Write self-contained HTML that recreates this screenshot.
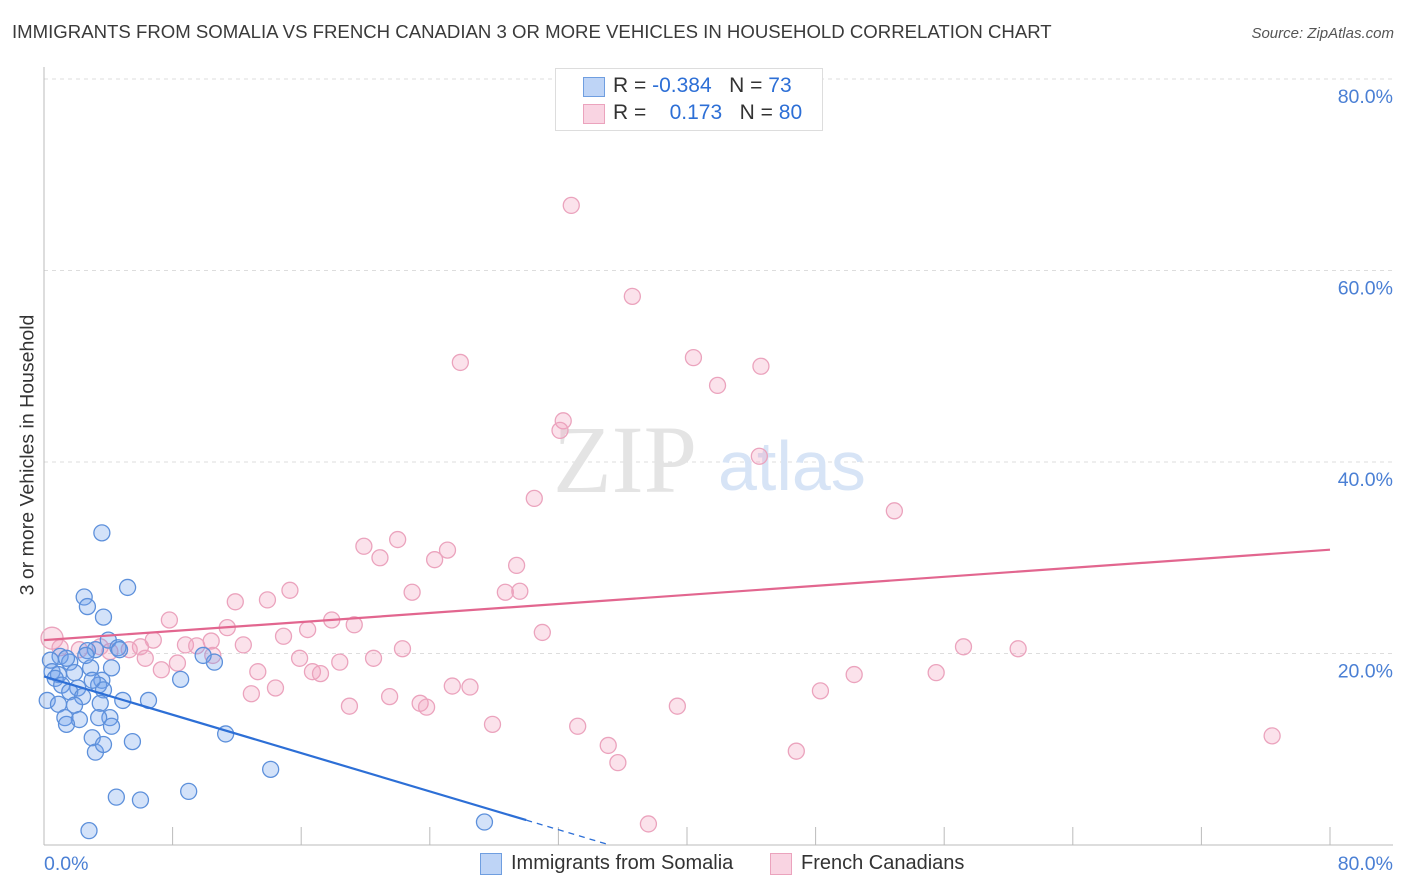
<!DOCTYPE html>
<html><head><meta charset="utf-8">
<style>
body{margin:0;background:#fff;font-family:"Liberation Sans",sans-serif;}
#wrap{position:relative;width:1406px;height:892px;overflow:hidden;}
.t{position:absolute;white-space:nowrap;}
</style></head>
<body>
<div id="wrap">
<div class="t" style="left:12px;top:21px;font-size:18.6px;color:#3a3a3a;">IMMIGRANTS FROM SOMALIA VS FRENCH CANADIAN 3 OR MORE VEHICLES IN HOUSEHOLD CORRELATION CHART</div>
<div class="t" style="right:12px;top:25px;font-size:15px;color:#555;font-style:italic;">Source: ZipAtlas.com</div>
<div class="t" style="left:28px;top:455px;font-size:19.5px;color:#333;transform:translate(-50%,-50%) rotate(-90deg);">3 or more Vehicles in Household</div>
<svg id="plot" width="1406" height="892" style="position:absolute;left:0;top:0"></svg>
</div>
<script>
const xTickLabels=["0.0%","80.0%"];
const yTickVals=[20,40,60,80];
const yTickLabels=["20.0%","40.0%","60.0%","80.0%"];
const somaliaX=[3.6,5.2,2.5,2.7,3.7,4.0,4.6,3.2,2.7,1.0,0.4,1.6,1.4,2.9,4.2,0.5,0.9,1.9,0.7,1.1,3.6,3.4,2.1,3.7,1.6,0.2,0.9,2.4,4.9,6.5,3.5,1.9,1.3,2.2,4.1,3.4,4.2,1.4,3.0,3.2,3.7,5.5,11.3,14.1,4.5,6.0,9.0,2.8,27.4,8.5,10.6,9.9,4.7,3.0,2.6];
const somaliaY=[32.6,26.9,25.9,24.9,23.8,21.4,20.6,20.4,20.3,19.7,19.3,19.1,19.5,18.5,18.5,18.1,17.8,18.0,17.4,16.7,17.2,16.7,16.4,16.2,16.0,15.1,14.7,15.5,15.1,15.1,14.8,14.6,13.3,13.1,13.3,13.3,12.4,12.6,11.2,9.7,10.5,10.8,11.6,7.9,5.0,4.7,5.6,1.5,2.4,17.3,19.1,19.8,20.4,17.2,19.8];
const frenchX=[32.8,36.6,25.9,40.4,44.6,41.9,32.3,32.1,44.5,30.5,52.9,22.0,19.9,25.1,20.9,24.3,29.4,22.9,15.3,13.9,11.9,28.7,29.6,7.8,17.9,11.4,14.9,19.3,16.4,31.0,6.8,6.0,8.8,10.4,9.5,10.5,12.4,22.3,57.2,60.6,6.3,8.3,15.9,18.4,20.5,13.3,16.7,17.2,7.3,50.4,55.5,14.4,12.9,25.4,26.5,21.5,19.0,23.4,23.8,39.4,48.3,27.9,33.2,35.1,46.8,35.7,76.4,37.6,0.5,1.0,2.2,4.1,5.3,3.5];
const frenchY=[66.8,57.3,50.4,50.9,50.0,48.0,44.3,43.3,40.6,36.2,34.9,31.9,31.2,30.8,30.0,29.8,29.2,26.4,26.6,25.6,25.4,26.4,26.5,23.5,23.5,22.7,21.8,23.0,22.5,22.2,21.4,20.7,20.9,21.3,20.8,19.8,20.9,20.5,20.7,20.5,19.5,19.0,19.5,19.1,19.5,18.1,18.1,17.9,18.3,17.8,18.0,16.4,15.8,16.6,16.5,15.5,14.5,14.8,14.4,14.5,16.1,12.6,12.4,10.4,9.8,8.6,11.4,2.2,21.6,20.6,20.4,20.2,20.4,20.7];
const somaliaTrend=[17.6,-0.5]; // intercept, slope
const frenchTrend=[21.4,0.118];
const X0=44,X1=1330,Y0=845,YT=79;
const sx=v=>X0+(v/80)*(X1-X0);
const sy=v=>Y0-(v/80)*(Y0-YT);
const svg=document.getElementById('plot');
const NS='http://www.w3.org/2000/svg';
function mk(tag,attrs,parent){const e=document.createElementNS(NS,tag);for(const k in attrs)e.setAttribute(k,attrs[k]);(parent||svg).appendChild(e);return e;}
yTickVals.forEach((v,i)=>{
 const g=mk('line',{x1:X0,x2:1393,y1:sy(v),y2:sy(v),stroke:'#ddd','stroke-dasharray':'4,4'});
 
 
 const t=mk('text',{x:1393,y:sy(v)+24,'text-anchor':'end','font-size':19.5,fill:'#4a7fd4','font-family':'Liberation Sans, sans-serif'});
 t.textContent=yTickLabels[i];
 
 
});
const ax=mk('line',{x1:X0,x2:1393,y1:Y0,y2:Y0,stroke:'#bbb'});


const ay=mk('line',{x1:X0,x2:X0,y1:67,y2:Y0,stroke:'#bbb'});


for(let i=0;i<=10;i++){
 const tk=mk('line',{x1:sx(i*8),x2:sx(i*8),y1:Y0,y2:Y0-18,stroke:'#bbb'});
 
 
}
const xl0=mk('text',{x:44,y:870,'font-size':19.5,fill:'#4a7fd4','font-family':'Liberation Sans, sans-serif'});xl0.textContent=xTickLabels[0];


const xl1=mk('text',{x:1393,y:870,'text-anchor':'end','font-size':19.5,fill:'#4a7fd4','font-family':'Liberation Sans, sans-serif'});xl1.textContent=xTickLabels[1];


const w1=mk('text',{x:553,y:492,'font-size':96,fill:'#e4e4e4','font-family':'Liberation Serif, serif'});w1.textContent='ZIP';


const w2=mk('text',{x:718,y:490,'font-size':70,fill:'#d7e4f6','font-family':'Liberation Sans, sans-serif'});w2.textContent='atlas';


frenchX.forEach((x,i)=>{
 const c=mk('circle',{cx:sx(x),cy:sy(frenchY[i]),r:(i===68?11:8),fill:'rgba(242,160,190,0.3)',stroke:'#eba3bd','stroke-width':1.3});
 
 
});
somaliaX.forEach((x,i)=>{
 const c=mk('circle',{cx:sx(x),cy:sy(somaliaY[i]),r:8,fill:'rgba(110,160,235,0.3)',stroke:'#5d90db','stroke-width':1.3});
 
 
});
const bEnd=30, bZero=-somaliaTrend[0]/somaliaTrend[1];
const tb=mk('line',{x1:sx(0),y1:sy(somaliaTrend[0]),x2:sx(bEnd),y2:sy(somaliaTrend[0]+somaliaTrend[1]*bEnd),stroke:'#2d6fd6','stroke-width':2.2});


const tbd=mk('line',{x1:sx(bEnd),y1:sy(somaliaTrend[0]+somaliaTrend[1]*bEnd),x2:sx(bZero),y2:sy(0),stroke:'#2d6fd6','stroke-width':1.3,'stroke-dasharray':'6,5'});


const tp=mk('line',{x1:sx(0),y1:sy(frenchTrend[0]),x2:sx(80),y2:sy(frenchTrend[0]+frenchTrend[1]*80),stroke:'#e2668f','stroke-width':2.2});


</script>
<div style="position:absolute;left:555px;top:68px;width:266px;height:61px;border:1px solid #ddd;background:#fff;font-size:21px;color:#333;">
 <div style="position:absolute;left:27px;top:8px;width:20px;height:18px;background:rgba(110,160,235,0.45);border:1px solid #6f9ee0;"></div>
 <div class="t" style="left:57px;top:5px;">R = <span style="color:#2d6fd6">-0.384</span>&nbsp;&nbsp;&nbsp;N = <span style="color:#2d6fd6">73</span></div>
 <div style="position:absolute;left:27px;top:35px;width:20px;height:18px;background:rgba(242,160,190,0.45);border:1px solid #eba3bd;"></div>
 <div class="t" style="left:57px;top:32px;">R = &nbsp;&nbsp;&nbsp;<span style="color:#2d6fd6">0.173</span>&nbsp;&nbsp;&nbsp;N = <span style="color:#2d6fd6">80</span></div>
</div>
<div style="position:absolute;left:480px;top:853px;">
 <div style="position:absolute;left:0;top:0;width:20px;height:20px;background:rgba(110,160,235,0.45);border:1px solid #6f9ee0;"></div>
 <div class="t" style="left:31px;top:-1px;font-size:20px;color:#333;">Immigrants from Somalia</div>
</div>
<div style="position:absolute;left:770px;top:853px;">
 <div style="position:absolute;left:0;top:0;width:20px;height:20px;background:rgba(242,160,190,0.45);border:1px solid #eba3bd;"></div>
 <div class="t" style="left:31px;top:-1px;font-size:20px;color:#333;">French Canadians</div>
</div>
</body></html>
